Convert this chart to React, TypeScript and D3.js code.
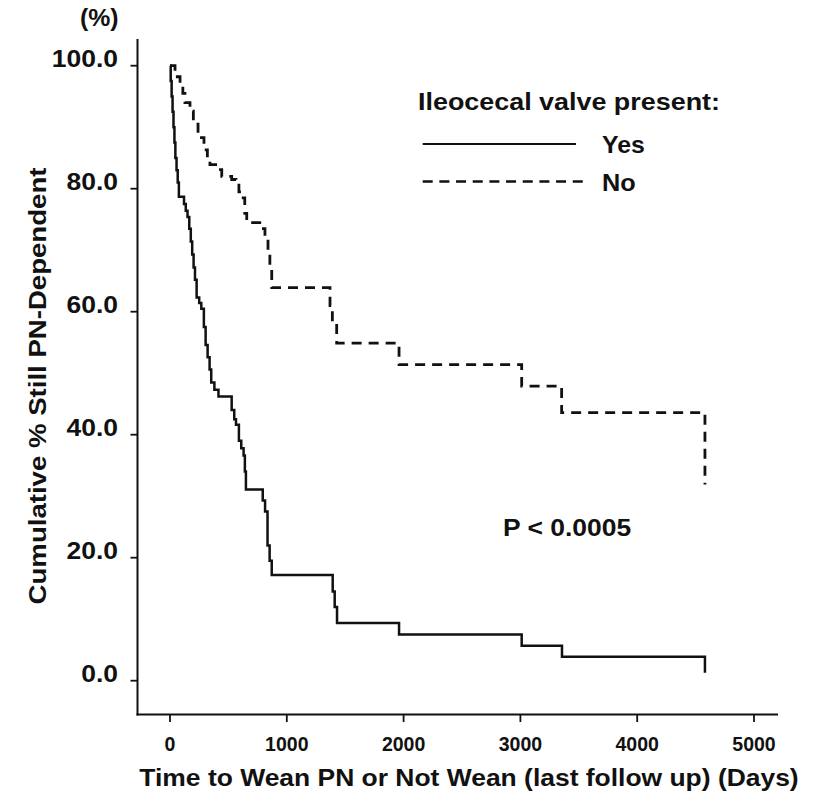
import React from "react";
import * as d3 from "d3";

const yesDays = [0, 6, 14, 22, 30, 38, 46, 56, 66, 76, 120, 135, 150, 165, 178, 190, 202, 214, 228, 250, 268, 290, 305, 322, 339, 353, 380, 415, 528, 550, 565, 590, 610, 630, 641, 650, 794, 814, 835, 853, 871, 1393, 1410, 1430, 1961, 3011, 3356, 4580];
const yesValues = [100, 97.5, 95, 92.5, 90, 87.5, 85, 83, 81, 78.7, 77.5, 76.4, 75.4, 73.5, 71.4, 69.3, 67.2, 65.2, 62.3, 61.4, 60.5, 57.5, 54.6, 52.6, 50.6, 48.5, 47.3, 46.2, 44, 42.5, 41.6, 39, 37.8, 36.6, 34, 31.1, 29.3, 27.5, 22, 19.5, 17.2, 14.5, 12, 9.4, 7.5, 5.7, 3.9, 1.3];

const noDays = [0, 43, 86, 110, 128, 171, 200, 240, 291, 320, 342, 411, 443, 528, 565, 590, 614, 640, 657, 785, 813, 839, 855, 871, 1370, 1390, 1427, 1961, 3011, 3353, 4580];
const noValues = [100, 98.2, 97.2, 95.5, 94, 92.6, 90.5, 88.3, 86.3, 85, 83.9, 83.1, 82, 81.5, 81, 79.5, 78.5, 76, 74.5, 73.5, 72.2, 70, 67, 63.9, 61, 58, 54.9, 51.4, 47.9, 43.6, 31.9];

const xTicks = [0, 1000, 2000, 3000, 4000, 5000];
const yTicks = [0, 20, 40, 60, 80, 100];
const yTickLabels = ["0.0", "20.0", "40.0", "60.0", "80.0", "100.0"];

const legendTitle = "Ileocecal valve present:";
const seriesNames = ["Yes", "No"];
const pText = "P < 0.0005";
const xTitle = "Time to Wean PN or Not Wean (last follow up) (Days)";
const yTitle = "Cumulative % Still PN-Dependent";
const yUnit = "(%)";

const FONT = "'Liberation Sans', Arial, Helvetica, sans-serif";
const INK = "#111";

export default function App() {
  const x = d3.scaleLinear().domain([0, 5000]).range([170, 754]);
  const y = d3.scaleLinear().domain([0, 100]).range([680.7, 65.7]);

  const line = d3
    .line<[number, number]>()
    .x((d) => x(d[0]))
    .y((d) => y(d[1]))
    .curve(d3.curveStepAfter);

  const yesPts: [number, number][] = yesDays.map((d, i) => [d, yesValues[i]]);
  const noPts: [number, number][] = noDays.map((d, i) => [d, noValues[i]]);

  const axisX0 = 137.5;
  const axisY0 = 714.5;

  const stretched = (
    key: string,
    tx: number,
    ty: number,
    sx: number,
    size: number,
    anchor: string,
    text: string,
    rotate = 0
  ) => (
    <g key={key} transform={`translate(${tx},${ty}) rotate(${rotate}) scale(${sx},1)`}>
      <text
        x={0}
        y={0}
        fontFamily={FONT}
        fontWeight="bold"
        fontSize={size}
        textAnchor={anchor}
        fill={INK}
      >
        {text}
      </text>
    </g>
  );

  return (
    <svg
      width={817}
      height={794}
      style={{ position: "absolute", left: 0, top: 0, background: "#fff" }}
    >
      <rect x={0} y={0} width={817} height={794} fill="#fff" />
      {/* axes */}
      <line x1={axisX0} y1={39} x2={axisX0} y2={axisY0 + 1} stroke={INK} strokeWidth={2} />
      <line x1={axisX0 - 1} y1={axisY0} x2={778} y2={axisY0} stroke={INK} strokeWidth={2} />
      {yTicks.map((t, i) => (
        <g key={"yt" + t}>
          <line x1={130.5} x2={axisX0} y1={y(t)} y2={y(t)} stroke={INK} strokeWidth={1.8} />
          {stretched("ytl" + t, 118, y(t) + 1, 1.15, 23, "end", yTickLabels[i])}
        </g>
      ))}
      {xTicks.map((t) => (
        <g key={"xt" + t}>
          <line x1={x(t)} x2={x(t)} y1={axisY0} y2={722} stroke={INK} strokeWidth={1.8} />
          {stretched("xtl" + t, x(t), 751, 1.0, 19.5, "middle", String(t))}
        </g>
      ))}
      {stretched("unit", 80, 26, 1.08, 23, "start", yUnit)}
      {stretched("xtitle", 469, 786, 1.15, 23, "middle", xTitle)}
      {stretched("ytitle", 46, 386, 1.2, 23, "middle", yTitle, -90)}

      {/* curves */}
      <path d={line(yesPts) || ""} fill="none" stroke={INK} strokeWidth={2.5} />
      <path
        d={line(noPts) || ""}
        fill="none"
        stroke={INK}
        strokeWidth={2.8}
        strokeDasharray="10 7"
      />

      {/* legend */}
      {stretched("lt", 418, 110, 1.17, 23, "start", legendTitle)}
      <line x1={422.7} x2={576} y1={144} y2={144} stroke={INK} strokeWidth={2.2} />
      <line
        x1={422.7}
        x2={583}
        y1={181.5}
        y2={181.5}
        stroke={INK}
        strokeWidth={2.4}
        strokeDasharray="10 6.67"
      />
      {stretched("ly", 602, 153, 1.08, 23, "start", seriesNames[0])}
      {stretched("ln", 602, 191, 1.1, 23, "start", seriesNames[1])}

      {stretched("p", 503, 536, 1.15, 23, "start", pText)}
    </svg>
  );
}
